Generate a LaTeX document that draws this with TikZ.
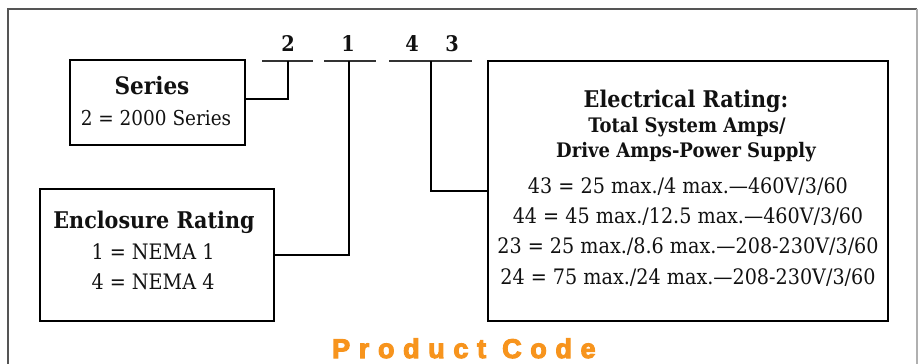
\documentclass[tikz,border=0pt]{standalone}
\usepackage{fontspec}
\setmainfont{DejaVu Serif}[FakeStretch=0.9]
\newfontfamily\codefont{Liberation Sans}[LetterSpace=32, UprightFeatures={FakeBold=4}, BoldFeatures={FakeBold=4}]
\usepackage{tikz}
\usetikzlibrary{calc}
\usepackage{xcolor}
\definecolor{pcOrange}{HTML}{F7941D}
\definecolor{pcFrame}{HTML}{555555}
\definecolor{pcFrameLt}{HTML}{B0B0B0}
\definecolor{pcInk}{HTML}{111111}

\begin{document}
\begin{tikzpicture}[x=1pt, y=-1pt,
  box/.style 2 args={draw=black, line width=2pt, minimum width=#1, minimum height=#2, inner sep=0pt},
  ttl/.style={anchor=base, inner sep=0pt, font=\fontsize{23}{27}\selectfont\bfseries, text=pcInk},
  sub/.style={anchor=base, inner sep=0pt, font=\fontsize{20}{24}\selectfont\bfseries, text=pcInk},
  val/.style={anchor=base, inner sep=0pt, font=\fontsize{21.3}{25}\selectfont, text=pcInk},
  digit/.style={anchor=base, inner sep=0pt, font=\fontsize{21.5}{25}\selectfont\bfseries, text=pcInk},
  bar/.style={line width=2pt, black!80},
  wire/.style={line width=2pt, black},
  frame/.style={line width=1.5pt, pcFrame}]
  \useasboundingbox (0,0) rectangle (919,364);
  \draw[frame] (8,364) -- (8,9) -- (917,9);
  \draw[frame, pcFrameLt] (917,9) -- (917,364);

  \foreach \n/\x in {2/288, 1/348, 4/412, 3/452}
    \node[digit] (d\n) at (\x,51) {\n};
  \foreach \a/\b in {262/313, 324/376, 389/472}
    \draw[bar] (\a,61) -- (\b,61);
  \coordinate (c2) at (288,61);
  \coordinate (c1) at (349,61);
  \coordinate (c43) at (431,61);

  \node[box={175pt}{85pt}] (ser) at (157.5,102.5) {};
  \node[ttl, font=\fontsize{24}{28}\selectfont\bfseries] (serT) at (152,94) {Series};
  \node[val, font=\fontsize{20.5}{24}\selectfont] (serV) at (156,125) {2 = 2000 Series};

  \node[box={234pt}{132pt}] (enc) at (157,255) {};
  \node[ttl] (encT) at (154,228) {Enclosure Rating};
  \node[val] (encA) at (153,259) {1 = NEMA 1};
  \node[val] (encB) at (153,289) {4 = NEMA 4};

  \node[box={400pt}{260pt}] (elec) at (688,191) {};
  \node[ttl] (elecT) at (686,107) {Electrical Rating:};
  \node[sub] (elecS1) at (687,132) {Total System Amps/};
  \node[sub] (elecS2) at (686,157) {Drive Amps-Power Supply};
  \foreach \i/\y/\t in {1/193/{43 = 25 max./4 max.—460V/3/60},
                        2/223/{44 = 45 max./12.5 max.—460V/3/60},
                        3/253/{23 = 25 max./8.6 max.—208-230V/3/60},
                        4/284/{24 = 75 max./24 max.—208-230V/3/60}}
    \node[val] (elecV\i) at (688,\y) {\t};

  \draw[wire] (c2) |- ([yshift=3.5pt]ser.east);
  \draw[wire] (c1) |- (enc.east);
  \draw[wire] (c43) |- (elec.west);

  \node[anchor=base west, inner sep=0pt, font=\codefont\fontsize{27}{31}\selectfont\bfseries, text=pcOrange] (code) at (332,358) {Product Code};
\end{tikzpicture}
\end{document}
